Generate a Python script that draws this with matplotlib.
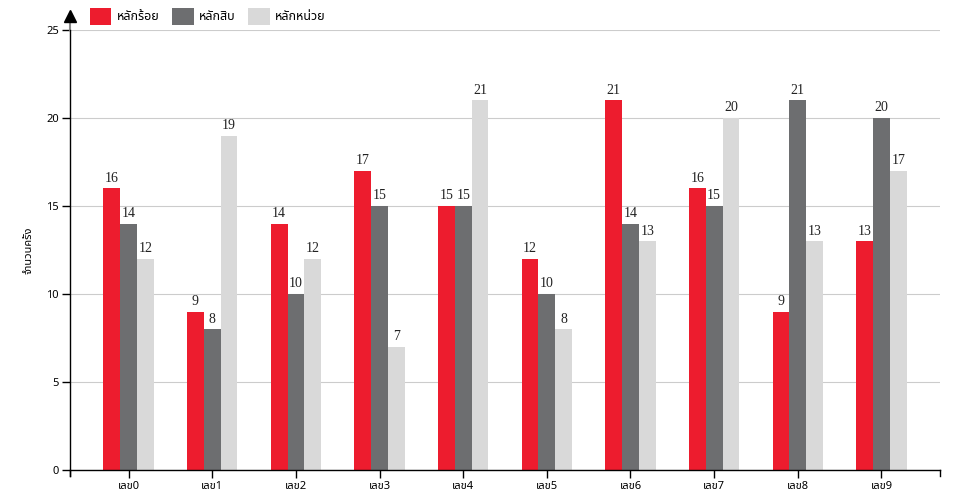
import numpy as np
import matplotlib
matplotlib.use("Agg")
import matplotlib.pyplot as plt
from matplotlib.patches import Patch

# ============================================================
# Data
# ============================================================
categories = ["เลข0", "เลข1", "เลข2", "เลข3", "เลข4",
              "เลข5", "เลข6", "เลข7", "เลข8", "เลข9"]
hundreds = [16, 9, 14, 17, 15, 12, 21, 16, 9, 13]
tens = [14, 8, 10, 15, 15, 10, 14, 15, 21, 20]
units = [12, 19, 12, 7, 21, 8, 13, 20, 13, 17]
series_names = ["หลักร้อย", "หลักสิบ", "หลักหน่วย"]
y_ticks = [0, 5, 10, 15, 20, 25]

colors = ["#ED1C2E", "#6D6E70", "#D9D9D9"]
thai = ["Noto Sans Thai", "DejaVu Sans"]
plt.rcParams["font.family"] = thai

# ============================================================
# Figure
# ============================================================
fig = plt.figure(figsize=(9.6, 5), dpi=100)
ax = fig.add_axes([70 / 960, 30 / 500, 870 / 960, 440 / 500])

x = np.arange(len(categories))
w = 0.2
for k, vals in enumerate([hundreds, tens, units]):
    xs = x + (k - 1) * w
    ax.bar(xs, vals, width=w, color=colors[k], zorder=2)
    for xi, v in zip(xs, vals):
        ax.text(xi, v + 0.2, str(v), ha="center", va="bottom",
                fontsize=10, family="Liberation Serif", color="#222222")

ax.set_xlim(-0.7, 9.7)
ax.set_ylim(0, 25)

ax.set_yticks(y_ticks)
ax.set_yticklabels([str(t) for t in y_ticks], fontsize=8)
ax.yaxis.grid(True, color="#CCCCCC", linewidth=0.8, zorder=0)
ax.tick_params(axis="y", length=6, width=1, pad=2, colors="black")

ax.set_xticks(x)
ax.set_xticklabels(categories, fontsize=8)
ax.tick_params(axis="x", length=6, width=1, pad=2)
# end ticks of the x axis
for xe in [-0.7, 9.7]:
    ax.plot([xe, xe], [0, -0.35], color="black", linewidth=1, clip_on=False)

for s in ["top", "right"]:
    ax.spines[s].set_visible(False)
ax.spines["left"].set_linewidth(1)
ax.spines["bottom"].set_linewidth(1)
ax.spines["left"].set_bounds(-0.35, 25)

# arrow on top of the y axis
ax.plot([-0.7, -0.7], [25, 25.6], color="#888888", linewidth=1.5, clip_on=False)
ax.plot([-0.7], [25.8], marker="^", markersize=8, color="black", clip_on=False)

ax.set_ylabel("จำนวนครั้ง", fontsize=8, labelpad=8)

handles = [Patch(facecolor=c) for c in colors]
fig.legend(handles, series_names, loc="upper left",
           bbox_to_anchor=(82 / 960, 1.0), ncol=3, frameon=False,
           fontsize=9, handlelength=1.75, handleheight=1.75,
           handletextpad=0.4, columnspacing=1.0, borderaxespad=0.2)

fig.savefig("out.png", dpi=100)
